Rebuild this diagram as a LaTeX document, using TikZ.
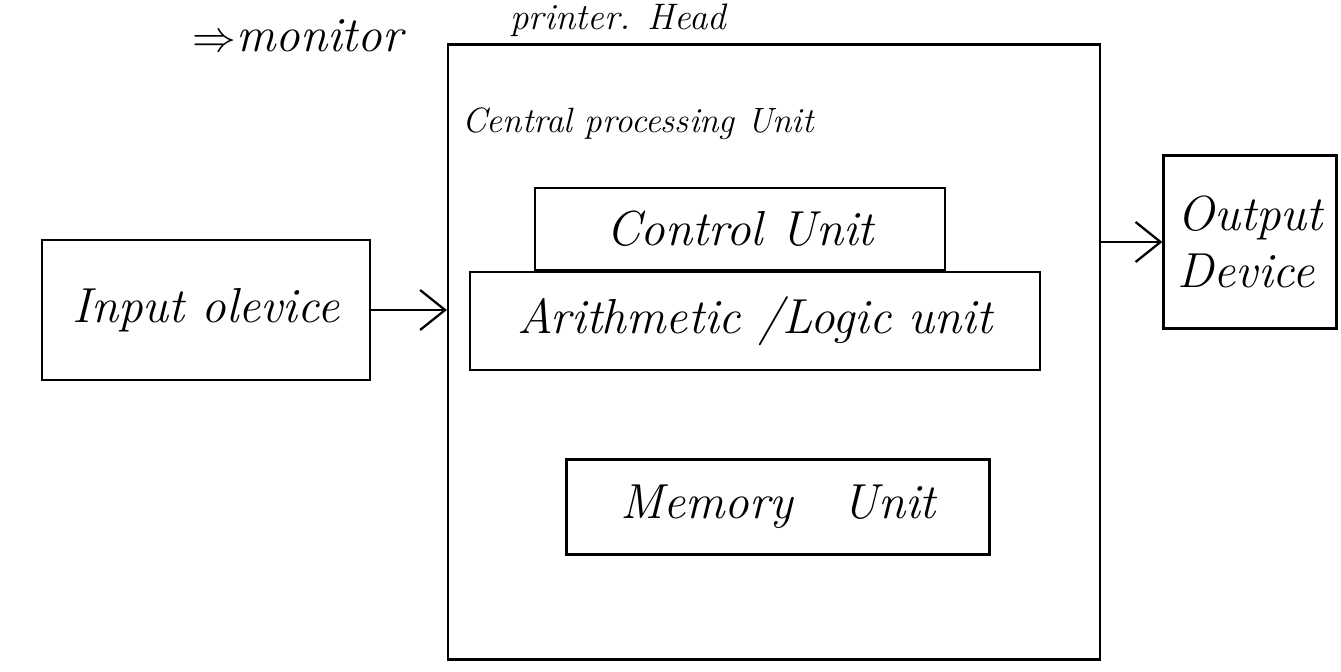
\documentclass[tikz,border=0pt]{standalone}
\usepackage{tikz}
\usetikzlibrary{arrows.meta,positioning}
\tikzset{
  flow/.style={-{Straight Barb[length=5mm,width=8mm,line width=1.3pt]},draw=black,line width=1.3pt},
  unitbox/.style={
    draw=black,
    rectangle,
    line width=1.3pt,
    inner sep=2pt,
    align=center,
    font=\fontsize{28}{32}\selectfont\itshape
  },
  hand/.style={font=\fontsize{28}{32}\selectfont\itshape,inner sep=0pt}
}

\begin{document}
\begin{tikzpicture}[x=0.02cm,y=-0.02cm]
  \useasboundingbox (0,0) rectangle (1341,672);
  \fill[white] (0,0) rectangle (1341,672);

  % Note at the top
  \node[hand,anchor=west] (note) at (192,36) {$\Rightarrow$monitor};
  \node[hand,anchor=west,font=\fontsize{21}{24}\selectfont\itshape] (noteb) at (510,20) {printer. Head};

  % Input
  \node[unitbox,minimum width=6.56cm,minimum height=2.8cm] (input) at (206,310) {Input olevice};

  % Central processing unit
  \node[unitbox,minimum width=13.04cm,minimum height=12.3cm] (cpu) at (774,352) {};
  \node[hand,font=\fontsize{20}{24}\selectfont\itshape,anchor=west] (cpulabel) at (462,124) {Central processing Unit};
  \node[unitbox,minimum width=11.4cm,minimum height=1.96cm] (alu) at (755,321) {Arithmetic /Logic unit};
  \node[unitbox,minimum width=8.2cm,minimum height=1.64cm,above=0pt of alu.north,anchor=south,xshift=-0.3cm] (control) {Control Unit};
  \node[unitbox,minimum width=8.46cm,minimum height=1.9cm] (memory) at (778,507) {Memory\quad Unit};

  % Output
  \node[unitbox,minimum width=3.46cm,minimum height=3.46cm,align=left] (output) at (1250,242) {Output\\Device};

  \draw[flow] (input.east) -- (cpu.west |- input.east);
  \draw[flow] (cpu.east |- output.west) -- (output.west);
\end{tikzpicture}
\end{document}
